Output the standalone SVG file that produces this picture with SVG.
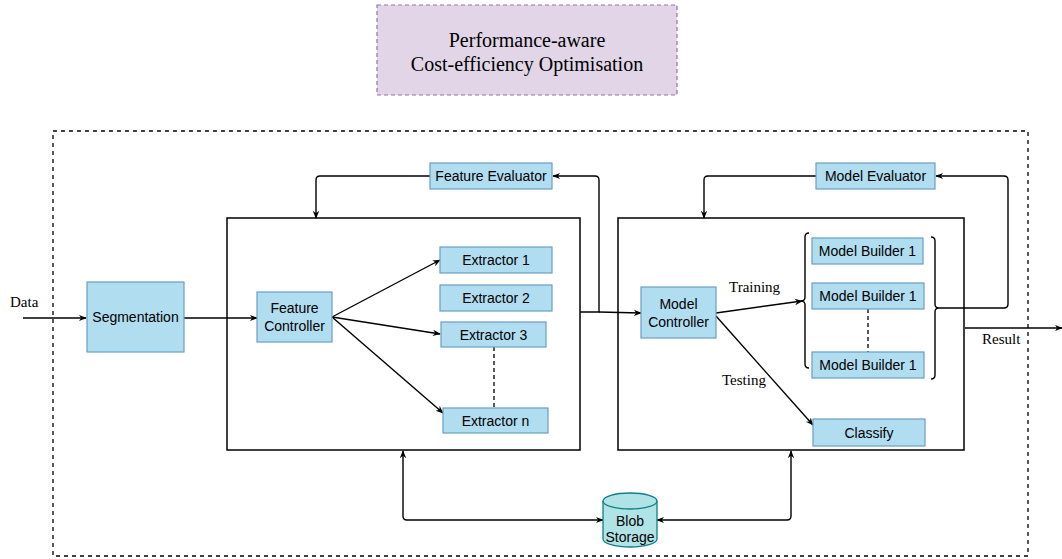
<svg xmlns="http://www.w3.org/2000/svg" width="1062" height="559" viewBox="0 0 1062 559">
<style>
.node{fill:#b1ddf0;stroke:#6a9ec0;stroke-width:1.2}
.t{font-family:"Liberation Sans",Arial,sans-serif;font-size:14px;fill:#000;text-anchor:middle;dominant-baseline:central}
.s{font-family:"Liberation Serif","Times New Roman",serif;fill:#000}
.box{fill:#fff;stroke:#000;stroke-width:1.5}
.c{fill:none;stroke:#000;stroke-width:1.4}
.arr{marker-end:url(#ah)}
.both{marker-start:url(#ah);marker-end:url(#ah)}
</style>
<defs>
<marker id="ah" viewBox="0 0 10 10" refX="9" refY="5" markerWidth="8" markerHeight="8" orient="auto-start-reverse" markerUnits="userSpaceOnUse">
<path d="M0,1 L10,5 L0,9 L3,5 z" fill="#000"/>
</marker>
</defs>
<rect width="1062" height="559" fill="#fff"/>

<g id="title">
<rect x="377" y="5" width="300" height="90" fill="#e1d5e7" stroke="#9673a6" stroke-width="1.2" stroke-dasharray="4 3"/>
<text class="s" x="527" y="47" font-size="20" text-anchor="middle">Performance-aware</text>
<text class="s" x="527" y="71" font-size="20" text-anchor="middle">Cost-efficiency Optimisation</text>
</g>

<g id="outer">
<rect x="53" y="131" width="975" height="425" fill="none" stroke="#000" stroke-width="1.3" stroke-dasharray="4 4"/>
</g>

<g id="feature-module"><rect class="box" x="227" y="218" width="353" height="232"/></g>
<g id="model-module"><rect class="box" x="618" y="218" width="346" height="232"/></g>

<g id="connectors">
<line class="c arr" x1="23" y1="318" x2="86" y2="318"/>
<line class="c arr" x1="184" y1="318" x2="257" y2="318"/>
<line class="c arr" x1="332" y1="317" x2="440" y2="260"/>
<line class="c arr" x1="332" y1="317" x2="440" y2="334"/>
<line class="c arr" x1="332" y1="317" x2="443" y2="413"/>
<line x1="494" y1="347" x2="494" y2="408" stroke="#000" stroke-width="1.3" stroke-dasharray="4 3"/>
<path class="c arr" d="M430,176 L320,176 Q316,176 316,180 L316,218"/>
<path class="c arr" d="M580,312 L599,312 L599,180 Q599,176 595,176 L553,176"/>
<line class="c arr" x1="599" y1="312" x2="641" y2="313"/>
<path class="c arr" d="M816,176 L708,176 Q704,176 704,180 L704,218"/>
<line class="c arr" x1="716" y1="313" x2="802" y2="301"/>
<line class="c arr" x1="716" y1="316" x2="813" y2="425"/>
<path class="c" d="M809,233 Q805,233 805,237 L805,297 Q805,301 801,301 Q805,301 805,305 L805,364 Q805,368 809,368"/>
<path class="c" d="M931,237 Q935,237 935,241 L935,304 Q935,308 939,308 Q935,308 935,312 L935,375 Q935,379 931,379"/>
<path class="c arr" d="M939,308 L1004,308 Q1008,308 1008,304 L1008,180 Q1008,176 1004,176 L936,176"/>
<line x1="868" y1="309" x2="868" y2="352" stroke="#000" stroke-width="1.3" stroke-dasharray="4 3"/>
<line class="c arr" x1="965" y1="328" x2="1062" y2="328"/>
<path class="c both" d="M403,451 L403,516 Q403,520 407,520 L603,520"/>
<path class="c both" d="M791,451 L791,516 Q791,520 787,520 L657,520"/>
<text class="s" x="10" y="307" font-size="15">Data</text>
<text class="s" x="729" y="292" font-size="15">Training</text>
<text class="s" x="722" y="385" font-size="15">Testing</text>
<text class="s" x="982" y="344" font-size="15">Result</text>
</g>

<g id="segmentation"><rect class="node" x="87" y="282" width="97" height="70"/><text class="t" x="135.5" y="317" font-size="15">Segmentation</text></g>
<g id="feature-controller"><rect class="node" x="257" y="292" width="75" height="50"/><text class="t" x="294.5" y="308">Feature</text><text class="t" x="294.5" y="326">Controller</text></g>
<g id="feature-evaluator"><rect class="node" x="430" y="163" width="122" height="26"/><text class="t" x="491" y="176">Feature Evaluator</text></g>
<g id="extractor-1"><rect class="node" x="440" y="247" width="112" height="26"/><text class="t" x="496" y="260">Extractor 1</text></g>
<g id="extractor-2"><rect class="node" x="440" y="285" width="112" height="26"/><text class="t" x="496" y="298">Extractor 2</text></g>
<g id="extractor-3"><rect class="node" x="441" y="322" width="105" height="25"/><text class="t" x="493.5" y="334.5">Extractor 3</text></g>
<g id="extractor-n"><rect class="node" x="443" y="408" width="105" height="25"/><text class="t" x="495.5" y="420.5">Extractor n</text></g>
<g id="model-evaluator"><rect class="node" x="816" y="163" width="119" height="26"/><text class="t" x="875.5" y="176">Model Evaluator</text></g>
<g id="model-controller"><rect class="node" x="641" y="287" width="75" height="51"/><text class="t" x="678.5" y="304">Model</text><text class="t" x="678.5" y="322">Controller</text></g>
<g id="model-builder-a"><rect class="node" x="812" y="238" width="111" height="26"/><text class="t" x="867.5" y="251">Model Builder 1</text></g>
<g id="model-builder-b"><rect class="node" x="812" y="283" width="112" height="26"/><text class="t" x="868" y="296">Model Builder 1</text></g>
<g id="model-builder-c"><rect class="node" x="812" y="352" width="112" height="26"/><text class="t" x="868" y="365">Model Builder 1</text></g>
<g id="classify"><rect class="node" x="813" y="419" width="112" height="27"/><text class="t" x="869" y="432.5">Classify</text></g>
<g id="blob-storage">
<path d="M603,501 L603,539 A27,8 0 0 0 657,539 L657,501 A27,8 0 0 0 603,501 Z" fill="#b0e3e6" stroke="#0e8088" stroke-width="1.3"/>
<path d="M603,501 A27,8 0 0 0 657,501" fill="none" stroke="#0e8088" stroke-width="1.3"/>
<text class="t" x="630" y="521" font-size="13">Blob</text>
<text class="t" x="630" y="537" font-size="13">Storage</text>
</g>
</svg>
